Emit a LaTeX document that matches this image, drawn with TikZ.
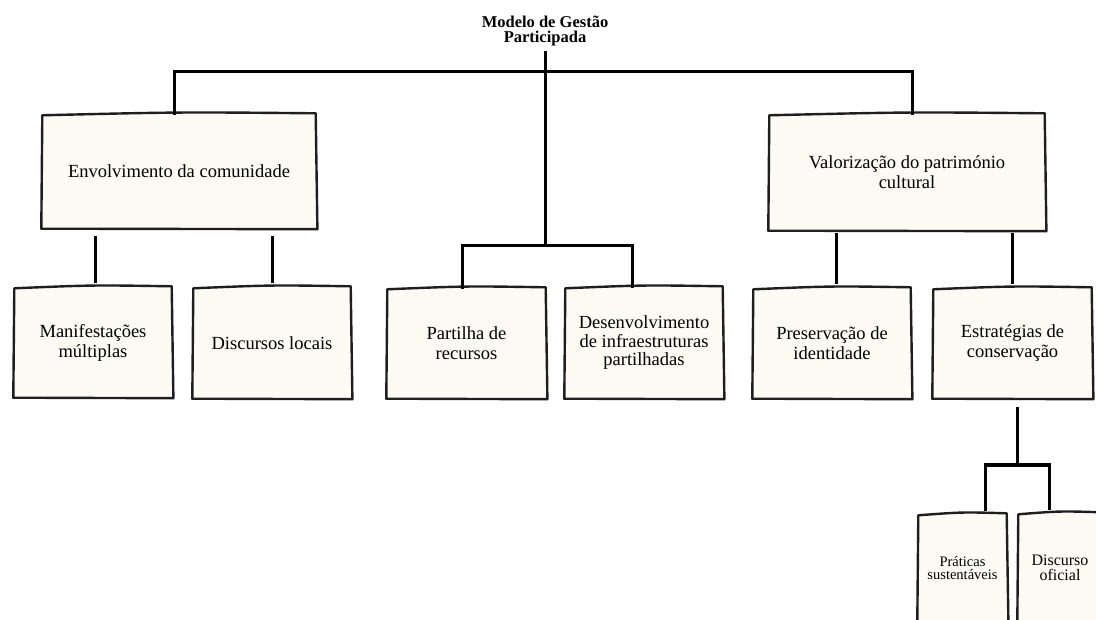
\documentclass[tikz,border=0pt]{standalone}
\usepackage{fontspec}
\setmainfont{Liberation Serif}
\definecolor{cream}{HTML}{FCFAF3}
\definecolor{ink}{HTML}{1E1E1E}
\newcommand\roughbox[1]{%
  \draw[edge] ([shift={(0.5pt,-2.5pt)}]#1.north west)
    .. controls ([shift={(0pt,0.8pt)}]#1.north) .. ([shift={(-0.5pt,-0.5pt)}]#1.north east)
    -- ([shift={(1.2pt,1pt)}]#1.south east)
    .. controls ([shift={(0pt,0.6pt)}]#1.south) .. ([shift={(-0.5pt,1.5pt)}]#1.south west)
    -- cycle;}
\begin{document}
\begin{tikzpicture}[x=1pt,y=-1pt,
  box/.style={fill=cream, draw=none, align=center, inner sep=2pt,
              font=\fontsize{18.5}{20}\selectfont},
  link/.style={line width=3pt, draw=black, line cap=rect},
  edge/.style={line width=2.4pt, draw=ink, line join=round}]
\useasboundingbox (0,0) rectangle (1096,620);
\clip (0,0) rectangle (1096,620);

% title
\node[align=center, font=\bfseries\fontsize{16.5}{15.5}\selectfont] (title) at (545,31)
  {Modelo de Gestão\\Participada};

% level 1
\node[box, minimum width=274pt, minimum height=117pt] (env) at (179,171.5)
  {Envolvimento da comunidade};
\node[box, minimum width=276pt, minimum height=119pt] (val) at (907,172.5)
  {Valorização do património\\cultural};

% level 2
\node[box, minimum width=158pt, minimum height=113pt] (man) at (93,342.5)
  {Manifestações\\múltiplas};
\node[box, minimum width=158pt, minimum height=114pt] (dis) at (272,343)
  {Discursos locais};
\node[box, minimum width=159pt, minimum height=113pt] (par) at (466.5,343.5)
  {Partilha de\\recursos};
\node[box, minimum width=158pt, minimum height=114pt, font=\fontsize{18.5}{18.5}\selectfont] (des) at (644,343)
  {Desenvolvimento\\de infraestruturas\\partilhadas};
\node[box, minimum width=158pt, minimum height=113pt] (pre) at (832,343.5)
  {Preservação de\\identidade};
\node[box, minimum width=159pt, minimum height=113pt] (est) at (1012.5,343.5)
  {Estratégias de\\conservação};

% level 3
\node[box, minimum width=89pt, minimum height=110pt,
      font=\fontsize{14.5}{13.5}\selectfont] (pra) at (962.5,568)
  {Práticas\\sustentáveis};
\node[box, minimum width=84pt, minimum height=112pt,
      font=\fontsize{16}{15}\selectfont] (dof) at (1060,568)
  {Discurso\\oficial};

\foreach \n in {env,val,man,dis,par,des,pre,est,pra,dof} {\roughbox{\n}}

% connectors
\coordinate (t0) at (545,53);
\coordinate (j0) at (545,72);
\coordinate (jm) at (545,246);
\coordinate (je) at (1017,409);
\coordinate (jx) at (1017,465);

\draw[link] (t0) -- (jm);
\draw[link] ([xshift=-5pt,yshift=-1pt]env.north) |- (j0) -| ([xshift=5pt,yshift=-1pt]val.north);
\draw[link] ([xshift=-4.5pt,yshift=-1pt]par.north) |- (jm) -| ([xshift=-12pt,yshift=-1pt]des.north);

\draw[link] ([xshift=2pt,yshift=-7pt]env.south -| man.north) -- ([xshift=2pt,yshift=4pt]man.north);
\draw[link] ([yshift=-7pt]env.south -| dis.north) -- ([yshift=4pt]dis.north);
\draw[link] ([xshift=4pt,yshift=-2pt]val.south -| pre.north) -- ([xshift=4pt,yshift=4pt]pre.north);
\draw[link] ([yshift=-2pt]val.south -| est.north) -- ([yshift=4pt]est.north);

\draw[link] (je) -- (jx);
\draw[link] ([xshift=22.5pt,yshift=3pt]pra.north) |- (jx) -| ([xshift=-11pt,yshift=3pt]dof.north);
\end{tikzpicture}
\end{document}
